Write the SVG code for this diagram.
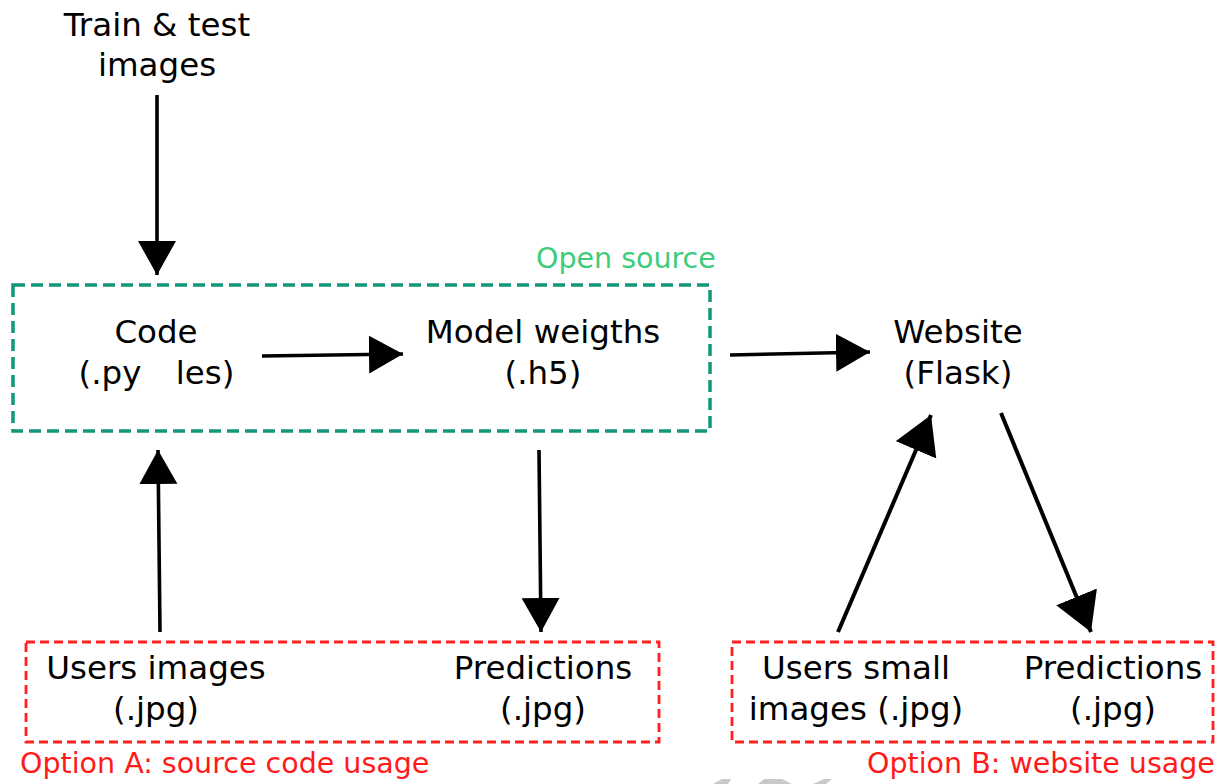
<svg xmlns="http://www.w3.org/2000/svg" width="1228" height="784" viewBox="0 0 1228 784">
<style>
.t{font-family:"DejaVu Sans","Verdana",sans-serif;font-size:32.5px;fill:#000;text-anchor:middle}
.red{font-family:"DejaVu Sans",sans-serif;font-size:28.5px;fill:#ff1a1a}
.grn{font-family:"DejaVu Sans",sans-serif;font-size:28.5px;fill:#3dcc7a}
.gbox{fill:none;stroke:#13977a;stroke-width:3.5;stroke-dasharray:12 6}
.rbox{fill:none;stroke:#ff2020;stroke-width:2.8;stroke-dasharray:9 5}
.c{stroke:#000;stroke-width:3.6;fill:none;marker-end:url(#ah)}
.d{stroke:#000;stroke-width:4;fill:none;marker-end:url(#ahl)}
</style>
<defs>
<marker id="ah" markerUnits="userSpaceOnUse" markerWidth="38" markerHeight="42" refX="34" refY="19" orient="auto">
<path d="M0,0 L34,19 L0,38 z" fill="#000"/>
</marker>
<marker id="ahl" markerUnits="userSpaceOnUse" markerWidth="42" markerHeight="46" refX="38" refY="22" orient="auto">
<path d="M0,0 L38,22 L0,44 z" fill="#000"/>
</marker>
</defs>
<rect width="1228" height="784" fill="#fff"/>
<g id="watermark" fill="#c9c9c9">
<polygon points="713,784 722,779 731,779 728,784"/>
<polygon points="758,784 764,779 782,779 792,784"/>
<polygon points="813,784 824,779 832,779 826,784"/>
</g>
<g id="connectors">
<line class="c" x1="157" y1="95" x2="157" y2="275"/>
<line class="c" x1="262" y1="356" x2="403" y2="354"/>
<line class="c" x1="730" y1="355" x2="870" y2="352"/>
<line class="c" x1="160" y1="632" x2="158" y2="450"/>
<line class="c" x1="539" y1="450" x2="541" y2="632"/>
<line class="d" x1="838" y1="632" x2="931" y2="415"/>
<line class="d" x1="1001" y1="413" x2="1091" y2="632"/>
</g>
<g id="train">
<text class="t" x="157" y="36">Train &amp; test</text>
<text class="t" x="157" y="76">images</text>
</g>
<g id="opensource">
<rect class="gbox" x="13" y="285" width="697" height="146"/>
<text class="grn" x="536" y="268">Open source</text>
</g>
<g id="code">
<text class="t" x="156" y="343">Code</text>
<text class="t" x="110" y="384">(.py</text>
<text class="t" x="205" y="384">les)</text>
</g>
<g id="weights">
<text class="t" x="543" y="343">Model weigths</text>
<text class="t" x="543" y="384">(.h5)</text>
</g>
<g id="website">
<text class="t" x="958" y="343">Website</text>
<text class="t" x="958" y="384">(Flask)</text>
</g>
<g id="optionA">
<rect class="rbox" x="26" y="642" width="633" height="100"/>
<text class="t" x="156" y="679">Users images</text>
<text class="t" x="156" y="720">(.jpg)</text>
<text class="t" x="543" y="679">Predictions</text>
<text class="t" x="543" y="720">(.jpg)</text>
<text class="red" x="20" y="773">Option A: source code usage</text>
</g>
<g id="optionB">
<rect class="rbox" x="732" y="642" width="481" height="100"/>
<text class="t" x="856" y="679">Users small</text>
<text class="t" x="856" y="720">images (.jpg)</text>
<text class="t" x="1113" y="679">Predictions</text>
<text class="t" x="1113" y="720">(.jpg)</text>
<text class="red" x="867" y="773">Option B: website usage</text>
</g>
</svg>
